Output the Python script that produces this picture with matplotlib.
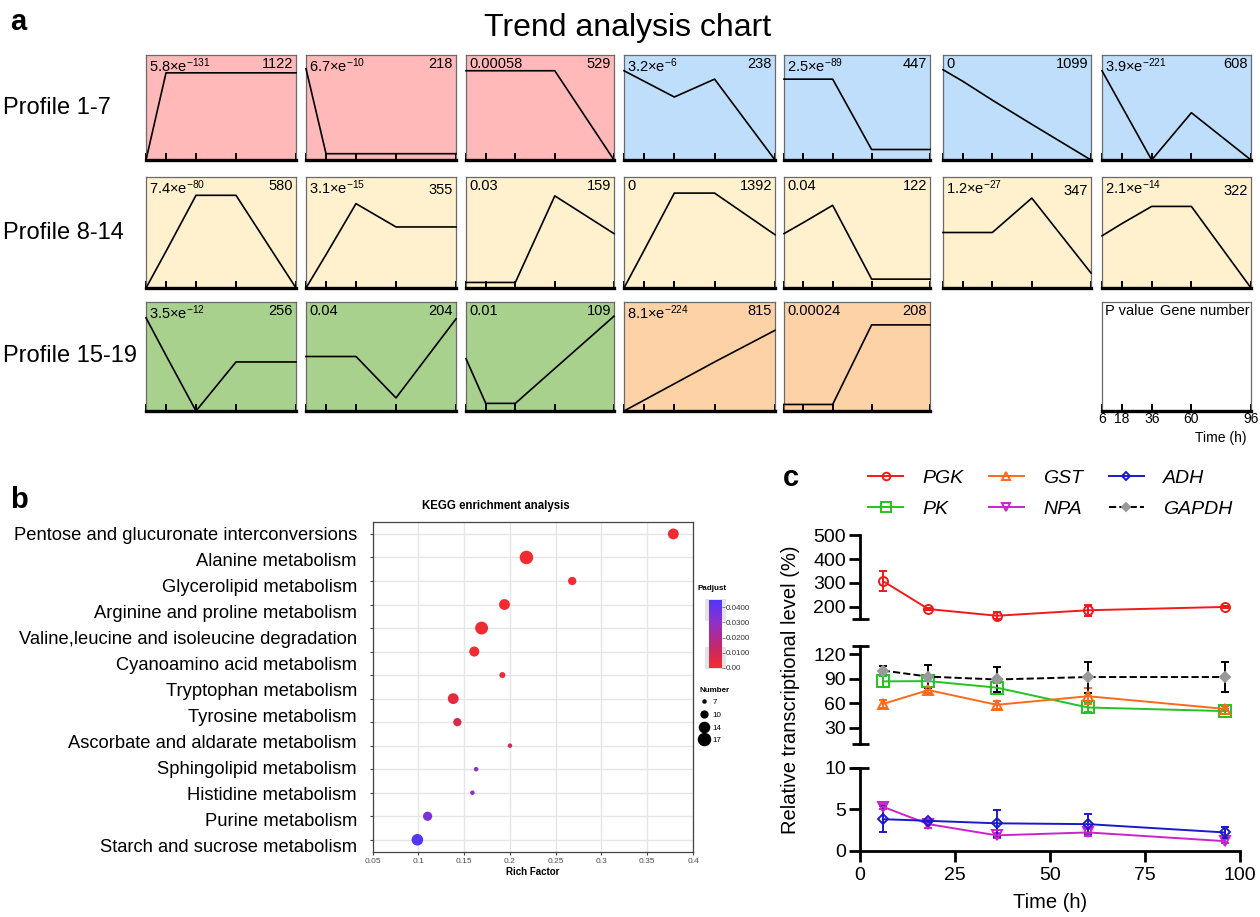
import numpy as np
import matplotlib
matplotlib.use('Agg')
import matplotlib.pyplot as plt
from matplotlib.lines import Line2D
from matplotlib.colors import LinearSegmentedColormap, Normalize
import matplotlib.patches as mpatches
import matplotlib.colorbar as mcolorbar
from matplotlib.transforms import offset_copy

plt.rcParams['font.family'] = ['Liberation Sans', 'DejaVu Sans']
plt.rcParams['mathtext.fontset'] = 'custom'
plt.rcParams['mathtext.rm'] = 'Liberation Sans'
plt.rcParams['mathtext.it'] = 'Liberation Sans:italic'
plt.rcParams['mathtext.bf'] = 'Liberation Sans:bold'
plt.rcParams['mathtext.default'] = 'regular'

# ---------------- Panel a data ----------------
time_points = [6, 18, 36, 60, 96]
p_values = ['5.8×e$^{-131}$', '6.7×e$^{-10}$', '0.00058', '3.2×e$^{-6}$', '2.5×e$^{-89}$', '0',
            '3.9×e$^{-221}$', '7.4×e$^{-80}$', '3.1×e$^{-15}$', '0.03', '0', '0.04',
            '1.2×e$^{-27}$', '2.1×e$^{-14}$', '3.5×e$^{-12}$', '0.04', '0.01',
            '8.1×e$^{-224}$', '0.00024']
gene_numbers = [1122, 218, 529, 238, 447, 1099, 608, 580, 355, 159, 1392, 122, 347, 322,
                256, 204, 109, 815, 208]
profile_1 = [0.00, 0.83, 0.83, 0.83, 0.83]
profile_2 = [0.87, 0.06, 0.06, 0.06, 0.06]
profile_3 = [0.85, 0.85, 0.85, 0.85, 0.00]
profile_4 = [0.85, 0.75, 0.60, 0.77, 0.00]
profile_5 = [0.77, 0.77, 0.77, 0.10, 0.10]
profile_6 = [0.86, 0.75, 0.57, 0.34, 0.00]
profile_7 = [0.85, 0.51, 0.00, 0.45, 0.00]
profile_8 = [0.00, 0.33, 0.835, 0.835, 0.00]
profile_9 = [0.00, 0.30, 0.76, 0.55, 0.55]
profile_10 = [0.05, 0.05, 0.05, 0.83, 0.49]
profile_11 = [0.00, 0.34, 0.855, 0.855, 0.48]
profile_12 = [0.49, 0.59, 0.745, 0.08, 0.08]
profile_13 = [0.50, 0.50, 0.50, 0.81, 0.135]
profile_14 = [0.47, 0.58, 0.735, 0.735, 0.00]
profile_15 = [0.855, 0.51, 0.00, 0.45, 0.45]
profile_16 = [0.50, 0.50, 0.50, 0.12, 0.845]
profile_17 = [0.48, 0.07, 0.07, 0.39, 0.87]
profile_18 = [0.00, 0.10, 0.25, 0.45, 0.74]
profile_19 = [0.06, 0.06, 0.06, 0.79, 0.79]
profiles = [profile_1, profile_2, profile_3, profile_4, profile_5, profile_6, profile_7,
            profile_8, profile_9, profile_10, profile_11, profile_12, profile_13, profile_14,
            profile_15, profile_16, profile_17, profile_18, profile_19]
row_labels = ['Profile 1-7', 'Profile 8-14', 'Profile 15-19']

# ---------------- Panel b data ----------------
pathways = ['Pentose and glucuronate interconversions', 'Alanine metabolism',
            'Glycerolipid metabolism', 'Arginine and proline metabolism',
            'Valine,leucine and isoleucine degradation', 'Cyanoamino acid metabolism',
            'Tryptophan metabolism', 'Tyrosine metabolism', 'Ascorbate and aldarate metabolism',
            'Sphingolipid metabolism', 'Histidine metabolism', 'Purine metabolism',
            'Starch and sucrose metabolism']
rich_factor = [0.3785, 0.218, 0.268, 0.194, 0.169, 0.161, 0.1917, 0.138, 0.1425, 0.200,
               0.163, 0.159, 0.110, 0.0988]
gene_count = [13, 17, 10, 13, 16, 12, 8, 13, 10, 7, 7, 7, 11, 14]
padjust = [0.001, 0.001, 0.001, 0.001, 0.001, 0.001, 0.002, 0.004, 0.008, 0.009,
           0.030, 0.032, 0.035, 0.044]
size_legend = [7, 10, 14, 17]

# ---------------- Panel c data ----------------
time_h = [6, 18, 36, 60, 96]
PGK = [308, 190, 162, 185, 199]
PGK_err = [42, 5, 15, 22, 4]
PK = [86.7, 87, 79, 54.7, 50.3]
PK_err = [7, 8, 6, 5, 3]
GST = [59, 76, 58, 68.5, 53]
GST_err = [5, 4, 5, 10, 3]
GAPDH = [100, 92.5, 89, 92, 92]
GAPDH_err = [6, 14, 15, 19, 18]
ADH = [3.8, 3.6, 3.3, 3.2, 2.2]
ADH_err = [1.6, 0.2, 1.6, 1.2, 0.7]
NPA = [5.3, 3.2, 1.85, 2.2, 1.15]
NPA_err = [0.3, 0.5, 0.3, 0.4, 0.2]

W, H = 1260, 917
fig = plt.figure(figsize=(W / 100, H / 100), dpi=100)


def add_ax(x0, y0, x1, y1):
    return fig.add_axes([x0 / W, 1 - y1 / H, (x1 - x0) / W, (y1 - y0) / H])


def ftext(x, y, s, **kw):
    fig.text(x / W, 1 - y / H, s, **kw)


# ================= Panel a =================
ftext(10, 22, 'a', fontsize=21, fontweight='bold', va='center')
ftext(628, 28, 'Trend analysis chart', fontsize=23, ha='center', va='center')

col_x = [(146, 296), (306, 456), (466, 614), (624, 775), (784, 930), (943, 1091), (1102, 1251)]
row_y = [(55, 160), (177, 288), (302, 411)]
colors_a = ['#FFB9B9'] * 3 + ['#BEDEFB'] * 4 + ['#FFF1CE'] * 7 + ['#A9D18E'] * 3 + ['#FDD2A6'] * 2
number_drop_pt = [0, 0, 0, 0, 0, 0, 0, 0, 3, 0, 0, 0, 4, 4, 0, 0, 0, 0, 0]


def style_mini(ax, face):
    ax.set_facecolor(face)
    ax.set_xlim(6, 96)
    ax.set_ylim(0, 1)
    for s in ['top', 'left', 'right']:
        ax.spines[s].set_color('#6a6a6a')
        ax.spines[s].set_linewidth(0.9)
    ax.spines['bottom'].set_color('black')
    ax.spines['bottom'].set_linewidth(2.4)
    ax.set_xticks(time_points)
    ax.set_yticks([])
    ax.tick_params(axis='x', direction='in', length=5, width=1.4, color='black',
                   labelbottom=False)


for i, vals in enumerate(profiles):
    r = i // 7
    c = i % 7
    x0, x1 = col_x[c]
    y0, y1 = row_y[r]
    ax = add_ax(x0, y0, x1, y1)
    style_mini(ax, colors_a[i])
    ax.plot(time_points, vals, color='black', lw=1.2, clip_on=False, zorder=3)
    ax.text(0.02, 0.985, p_values[i], transform=ax.transAxes, ha='left', va='top', fontsize=10.5)
    tr = offset_copy(ax.transAxes, fig=fig, x=0, y=-number_drop_pt[i], units='points')
    ax.text(0.98, 0.985, str(gene_numbers[i]), transform=tr, ha='right', va='top',
            fontsize=10.5)

for r, lab in enumerate(row_labels):
    y0, y1 = row_y[r]
    ftext(3, (y0 + y1) / 2, lab, fontsize=17, va='center', ha='left')

# key box
axk = add_ax(col_x[6][0], row_y[2][0], col_x[6][1], row_y[2][1])
style_mini(axk, 'white')
axk.tick_params(axis='x', labelbottom=True, labelsize=10, pad=1)
axk.set_xticklabels([str(t) for t in time_points])
axk.text(0.02, 0.985, 'P value', transform=axk.transAxes, ha='left', va='top', fontsize=10.5)
axk.text(0.99, 0.985, 'Gene number', transform=axk.transAxes, ha='right', va='top',
         fontsize=10.5)
axk.text(0.8, -0.25, 'Time (h)', transform=axk.transAxes, ha='center', va='center',
         fontsize=10)

# ================= Panel b =================
ftext(10, 500, 'b', fontsize=21, fontweight='bold', va='center')
axb = add_ax(372.7, 521.7, 693, 852)
cmap = LinearSegmentedColormap.from_list('padj', ['#F52A2E', '#C02870', '#9030C8', '#5236F8'])
norm = Normalize(0, 0.0446)
ypos = np.arange(len(rich_factor))


def dot_area(n):
    return 10.5 + 8.4 * (np.asarray(n, dtype=float) - 7)


axb.scatter(rich_factor, ypos, s=dot_area(gene_count), c=padjust, cmap=cmap, norm=norm,
            edgecolors='none', zorder=3)
axb.set_xlim(0.05, 0.4)
axb.set_ylim(len(rich_factor) - 0.48, -0.52)
axb.set_xticks([0.05, 0.1, 0.15, 0.2, 0.25, 0.3, 0.35, 0.4])
axb.set_xticklabels(['0.05', '0.1', '0.15', '0.2', '0.25', '0.3', '0.35', '0.4'])
axb.set_yticks(ypos)
axb.set_yticklabels([])
axb.grid(True, color='#E6E6E6', lw=1.0)
axb.set_axisbelow(True)
for s in axb.spines.values():
    s.set_color('#444444')
    s.set_linewidth(0.9)
axb.tick_params(axis='both', length=2.5, width=0.8, color='#444444', labelsize=6,
                labelcolor='#4D4D4D', pad=1.5)
axb.set_xlabel('Rich Factor', fontsize=7, fontweight='bold', labelpad=2)
ftext(496, 506, 'KEGG enrichment analysis', fontsize=8.3, fontweight='bold', ha='center',
      va='center')

# pathway labels
axl = add_ax(0, 522, 357, 861)
axl.set_xlim(0, 1)
axl.set_ylim(len(pathways) - 0.5, -0.5)
axl.axis('off')
for k, name in enumerate(pathways):
    axl.text(1.0, k, name, ha='right', va='center', fontsize=13.2)

# color legend
ftext(697, 588, 'Padjust', fontsize=5.8, fontweight='bold', va='center')
axbg = add_ax(705, 598, 726, 670)
axbg.set_xlim(0, 1)
axbg.set_ylim(0, 1)
axbg.axis('off')
axbg.add_patch(mpatches.Rectangle((0, 0.68), 1, 0.30, facecolor='#E3E3E3', edgecolor='none'))
axbg.add_patch(mpatches.Rectangle((0, 0.02), 1, 0.30, facecolor='#E3E3E3', edgecolor='none'))
axcb = add_ax(709, 600, 722, 668)
cb = mcolorbar.ColorbarBase(axcb, cmap=cmap, norm=norm, orientation='vertical')
cb.outline.set_visible(False)
cb.set_ticks([0, 0.01, 0.02, 0.03, 0.04])
cb.set_ticklabels(['0.00', '0.0100', '0.0200', '0.0300', '0.0400'])
axcb.tick_params(labelsize=5.8, length=2, width=0.6, color='#666666', labelcolor='#333333', pad=1)

size_handles = [Line2D([], [], ls='none', marker='o', color='black',
                       markersize=np.sqrt(dot_area(n)), markeredgewidth=0) for n in size_legend]
fig.legend(size_handles, [str(n) for n in size_legend], loc='upper left',
           bbox_to_anchor=(694 / W, 1 - 681 / H), frameon=False, fontsize=5.8,
           title='Number', title_fontproperties={'weight': 'bold', 'size': 5.8},
           handlelength=1.0, handletextpad=0.6, labelspacing=0.62, borderpad=0.2,
           alignment='left')

# ================= Panel c =================
ftext(783, 478, 'c', fontsize=21, fontweight='bold', va='center')
XL = 860
XR = 1240
ax_top = add_ax(XL, 535.2, XR, 618.6)
ax_mid = add_ax(XL, 646.0, XR, 744.0)
ax_bot = add_ax(XL, 767.7, XR, 850.7)
ax_top.set_ylim(150, 500)
ax_mid.set_ylim(10, 130)
ax_bot.set_ylim(0, 10)
ax_top.set_yticks([200, 300, 400, 500])
ax_mid.set_yticks([30, 60, 90, 120])
ax_bot.set_yticks([0, 5, 10])

# name, values, errors, line colour, marker, size, linestyle, marker edge, marker face, axis
series = [
    ('PGK', PGK, PGK_err, '#F01A1A', 'o', 6.5, '-', '#F01A1A', 'none', ax_top),
    ('PK', PK, PK_err, '#22C322', 's', 8.5, '-', '#22C322', 'none', ax_mid),
    ('GST', GST, GST_err, '#FF6A1A', '^', 6.5, '-', '#FF6A1A', 'none', ax_mid),
    ('NPA', NPA, NPA_err, '#CC22CC', 'v', 6.5, '-', '#CC22CC', 'none', ax_bot),
    ('ADH', ADH, ADH_err, '#1A1ACC', 'D', 5, '-', '#1A1ACC', 'none', ax_bot),
    ('GAPDH', GAPDH, GAPDH_err, 'black', 'D', 5, '--', '#999999', '#999999', ax_mid),
]
for ax in (ax_top, ax_mid, ax_bot):
    ax.set_xlim(0, 100)
    ax.set_facecolor('none')
    for s in ['top', 'right']:
        ax.spines[s].set_visible(False)
    ax.spines['left'].set_linewidth(2)
    ax.spines['bottom'].set_linewidth(2)
    ax.tick_params(axis='y', length=8, width=2, labelsize=14, pad=2)
    ax.tick_params(axis='x', length=8, width=2, labelsize=14, pad=4)

handles = {}
for name, vals, err, col, mk, ms, ls, mec, mfc, ax in series:
    ecol = 'black' if name == 'GAPDH' else col
    ax.errorbar(time_h, vals, yerr=err, color=col, ls=ls, lw=1.4, ecolor=ecol,
                elinewidth=1.4, capsize=3, capthick=1.4, marker=mk, ms=ms,
                mec=mec, mfc=mfc, mew=1.4, zorder=3, clip_on=False)
    handles[name] = Line2D([], [], color=col, ls=ls, lw=1.4, marker=mk, ms=ms - 1,
                           mec=mec, mfc=mfc, mew=1.4)

for ax in (ax_top, ax_mid):
    ax.spines['bottom'].set_visible(False)
    ax.set_xticks([])
ax_bot.set_xticks([0, 25, 50, 75, 100])
ax_bot.set_xlabel('Time (h)', fontsize=14.5, labelpad=6)

# break caps
cap_w = 8.5 / (XR - XL)
for ax, yc in [(ax_top, 0), (ax_mid, 0), (ax_mid, 1), (ax_bot, 1)]:
    ax.plot([-cap_w, cap_w], [yc, yc], transform=ax.transAxes, color='black', lw=2,
            clip_on=False, solid_capstyle='butt')

ftext(790, 690, 'Relative transcriptional level (%)', fontsize=14.5, rotation=90,
      ha='center', va='center')

order = ['PGK', 'PK', 'GST', 'NPA', 'ADH', 'GAPDH']
fig.legend([handles[n] for n in order], order, ncol=3, loc='upper left',
           bbox_to_anchor=(868 / W, 1 - 469 / H), frameon=False,
           prop={'style': 'italic', 'size': 14}, handlelength=1.8, handletextpad=1.0,
           columnspacing=1.3, labelspacing=0.72, borderpad=0, borderaxespad=0)

fig.savefig('out.png', dpi=100)
